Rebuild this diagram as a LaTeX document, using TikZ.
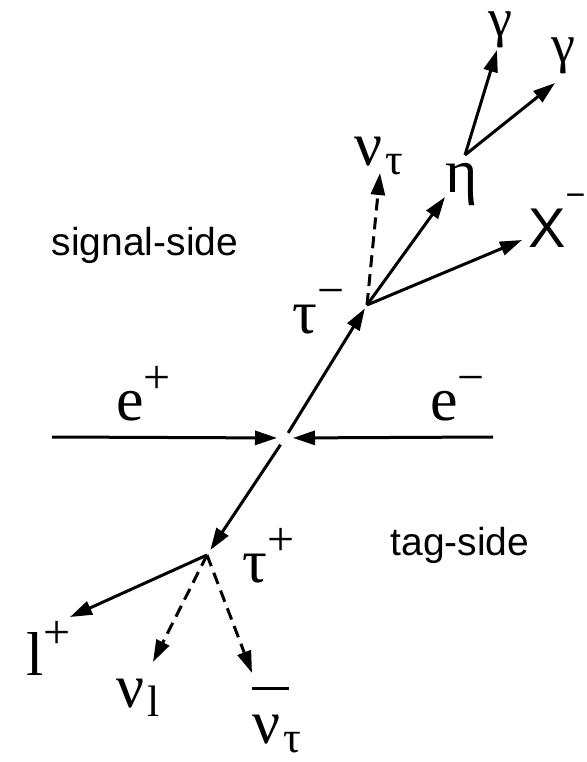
\documentclass[tikz,border=0pt]{standalone}
\usepackage{fontspec}
\setmainfont{Liberation Serif}
\newfontfamily\labsans{Liberation Sans}
\usetikzlibrary{arrows.meta}
\tikzset{
  track/.style={line width=3pt, -{Triangle[length=22pt,width=14pt]}},
  nutrack/.style={track, dash pattern=on 12pt off 7pt},
  lab/.style={font=\fontsize{62}{70}\selectfont, inner sep=0pt, anchor=base west},
  side/.style={font=\labsans\fontsize{39}{44}\selectfont, inner sep=0pt, anchor=base},
}
\newcommand{\up}[1]{\raisebox{0.42em}{\fontsize{48}{48}\selectfont #1}}
\newcommand{\dn}[1]{\kern3pt\raisebox{-0.15em}{\fontsize{44}{44}\selectfont #1}}
\begin{document}
\begin{tikzpicture}[x=1pt,y=-1pt]
        \useasboundingbox (0,0) rectangle (586,762);
        % vertices
        \coordinate (ip) at (285,438);
        \coordinate (taumv) at (367,305);
        \coordinate (taupv) at (207,555);
        \coordinate (etav) at (465,155);
        % beams
        \coordinate (ebeam) at (52,437);
        \coordinate (pbeam) at (493,437);
        \draw[track, shorten >=8pt] (ebeam) -- (ip);
        \draw[track, shorten >=8pt] (pbeam) -- (ip);
        \node[lab] (eplus) at (116,420) {e\up{+}};
        \node[lab] (eminus) at (430,420) {e\up{−}};
        % tau pair
        \draw[track, shorten <=6pt, shorten >=4pt] (ip) -- (taumv);
        \draw[track, shorten <=8pt, shorten >=6pt] (ip) -- (taupv);
        \node[lab] (taum) at (292,333) {τ\up{−}};
        \node[lab] (taup) at (242,582) {τ\up{+}};
        % signal-side decay
        \coordinate (nutautip) at (380,173);
        \coordinate (etatip) at (445,197);
        \coordinate (xtip) at (522,240);
        \draw[nutrack] (taumv) -- (nutautip);
        \draw[track] (taumv) -- (etatip);
        \draw[track] (taumv) -- (xtip);
        \node[lab] (nutau) at (354,165) {ν\dn{τ}};
        \node[lab] (eta) at (445,192) {η};
        \node[lab, font=\labsans\fontsize{56}{60}\selectfont] (xm) at (528,247) {X\raisebox{0.72em}{\fontsize{34}{34}\selectfont −}};
        \coordinate (gamatip) at (497,50);
        \coordinate (gambtip) at (555,83);
        \draw[track] (etav) -- (gamatip);
        \draw[track] (etav) -- (gambtip);
        \node[lab, font=\fontsize{54}{60}\selectfont] (gama) at (488,37) {γ};
        \node[lab, font=\fontsize{54}{60}\selectfont] (gamb) at (551,63) {γ};
        % tag-side decay
        \coordinate (ltip) at (70,617);
        \coordinate (nultip) at (153,662);
        \coordinate (nutbtip) at (252,673);
        \draw[track] (taupv) -- (ltip);
        \draw[nutrack] (taupv) -- (nultip);
        \draw[nutrack] (taupv) -- (nutbtip);
        \node[lab] (lep) at (26,675) {l\up{+}};
        \node[lab] (nul) at (116,707) {ν\dn{l}};
        \node[lab] (nutb) at (252,743) {\rlap{\raisebox{0.86em}{\rule{0.6em}{3pt}}}ν\dn{τ}};
        % sides
        \node[side] (sig) at (145,255) {signal-side};
        \node[side] (tag) at (460,555) {tag-side};
    \end{tikzpicture}
\end{document}
